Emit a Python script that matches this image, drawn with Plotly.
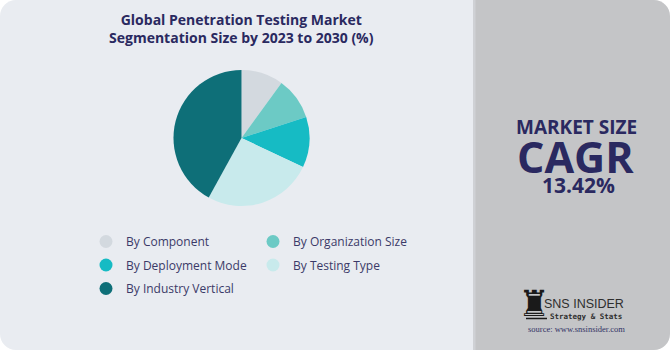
import plotly.graph_objects as go

# ---- data ----
segments = ["By Component", "By Organization Size", "By Deployment Mode",
            "By Testing Type", "By Industry Vertical"]
shares = [10, 10, 12, 26, 42]
colors = ["#d3d9df", "#6ccac5", "#16bbc4", "#c8eaec", "#0e6f78"]
legend_cols = ["legend", "legend2", "legend", "legend2", "legend"]

title_text = "Global Penetration Testing Market<br>Segmentation Size by 2023 to 2030 (%)"
cagr_label = "MARKET SIZE"
cagr_word = "CAGR"
cagr_value = "13.42%"

W, H = 670, 350
NAVY = "#2a2960"
FONT = "Open Sans, Lato, sans-serif"

fig = go.Figure()

fig.add_trace(go.Pie(
    labels=segments, values=shares, sort=False, direction="clockwise",
    rotation=0, marker=dict(colors=colors, line=dict(width=0)),
    textinfo="none", hoverinfo="label+percent", showlegend=False,
    domain=dict(x=[173.5 / W, 309.5 / W], y=[1 - 206 / H, 1 - 70 / H]),
))

# legend entries with circular markers
for name, col, lg in zip(segments, colors, legend_cols):
    fig.add_trace(go.Scatter(
        x=[None], y=[None], mode="markers", name=name,
        marker=dict(color=col, size=13, symbol="circle"),
        legend=lg, legendgroup=name, showlegend=True,
    ))

def lrect(x0, y0, x1, y1, r):
    k = 0.45 * r
    return (f"M{x0+r},{y0} L{x1},{y0} L{x1},{y1} L{x0+r},{y1} "
            f"C{x0+k},{y1} {x0},{y1-k} {x0},{y1-r} "
            f"L{x0},{y0+r} C{x0},{y0+k} {x0+k},{y0} {x0+r},{y0} Z")

def rrect_right(x0, y0, x1, y1, r):
    k = 0.45 * r
    return (f"M{x0},{y0} L{x1-r},{y0} C{x1-k},{y0} {x1},{y0+k} {x1},{y0+r} "
            f"L{x1},{y1-r} C{x1},{y1-k} {x1-k},{y1} {x1-r},{y1} "
            f"L{x0},{y1} Z")

shapes = [
    dict(type="path", path=lrect(0, 0, 474, H, 16), fillcolor="#e9ecf1",
         line=dict(width=0), xref="x", yref="y", layer="below"),
    dict(type="path", path=rrect_right(473, 0, W, H, 16), fillcolor="#c4c5c7",
         line=dict(width=0), xref="x", yref="y", layer="below"),
    dict(type="rect", x0=473, x1=475.5, y0=0, y1=H, fillcolor="#cfd1d5",
         line=dict(width=0), xref="x", yref="y", layer="below"),
    dict(type="line", x0=526, x1=547, y0=318.5, y1=318.5,
         line=dict(color="#1a1a1a", width=1.5), xref="x", yref="y"),
]

ann = [
    dict(x=241, y=28, text=f"<b>{title_text}</b>", showarrow=False,
         font=dict(family=FONT, size=14, color=NAVY), xanchor="center",
         yanchor="middle"),
    dict(x=576, y=127, text=f"<b>{cagr_label}</b>", showarrow=False,
         font=dict(family=FONT, size=19, color=NAVY, weight=800)),
    dict(x=575, y=156, text=f"<b>{cagr_word}</b>", showarrow=False,
         font=dict(family=FONT, size=43, color=NAVY, weight=800)),
    dict(x=578, y=185, text=f"<b>{cagr_value}</b>", showarrow=False,
         font=dict(family=FONT, size=21, color=NAVY, weight=800)),
    dict(x=534, y=303, text="♜", showarrow=False,
         font=dict(family="DejaVu Sans", size=36, color="#1a1a1a")),
    dict(x=584, y=304, text="SNS INSIDER", showarrow=False,
         font=dict(family="Liberation Sans Narrow, Liberation Sans", size=12.5,
                   color="#2e2e2e")),
    dict(x=586, y=316, text="<b>Strategy & Stats</b>", showarrow=False,
         font=dict(family="DejaVu Sans Mono", size=7.5, color="#2e2e2e")),
    dict(x=576, y=329, text="source: www.snsinsider.com", showarrow=False,
         font=dict(family="Liberation Serif", size=8.5, color="#333366")),
]

leg_common = dict(
    orientation="v", bgcolor="rgba(0,0,0,0)", borderwidth=0,
    font=dict(family=FONT, size=12, color="#3b3a68"),
    tracegroupgap=4.5, itemclick=False, itemdoubleclick=False,
    xanchor="left", yanchor="top",
)

fig.update_layout(
    width=W, height=H, margin=dict(l=0, r=0, t=0, b=0),
    paper_bgcolor="#ffffff", plot_bgcolor="rgba(0,0,0,0)",
    xaxis=dict(range=[0, W], visible=False, fixedrange=True),
    yaxis=dict(range=[H, 0], visible=False, fixedrange=True),
    shapes=shapes, annotations=ann,
    legend=dict(x=86 / W, y=1 - 227 / H, **leg_common),
    legend2=dict(x=253 / W, y=1 - 227 / H, **leg_common),
    showlegend=True,
)
for a in fig.layout.annotations:
    a.xref = "x"
    a.yref = "y"

fig.write_html("out.html")
